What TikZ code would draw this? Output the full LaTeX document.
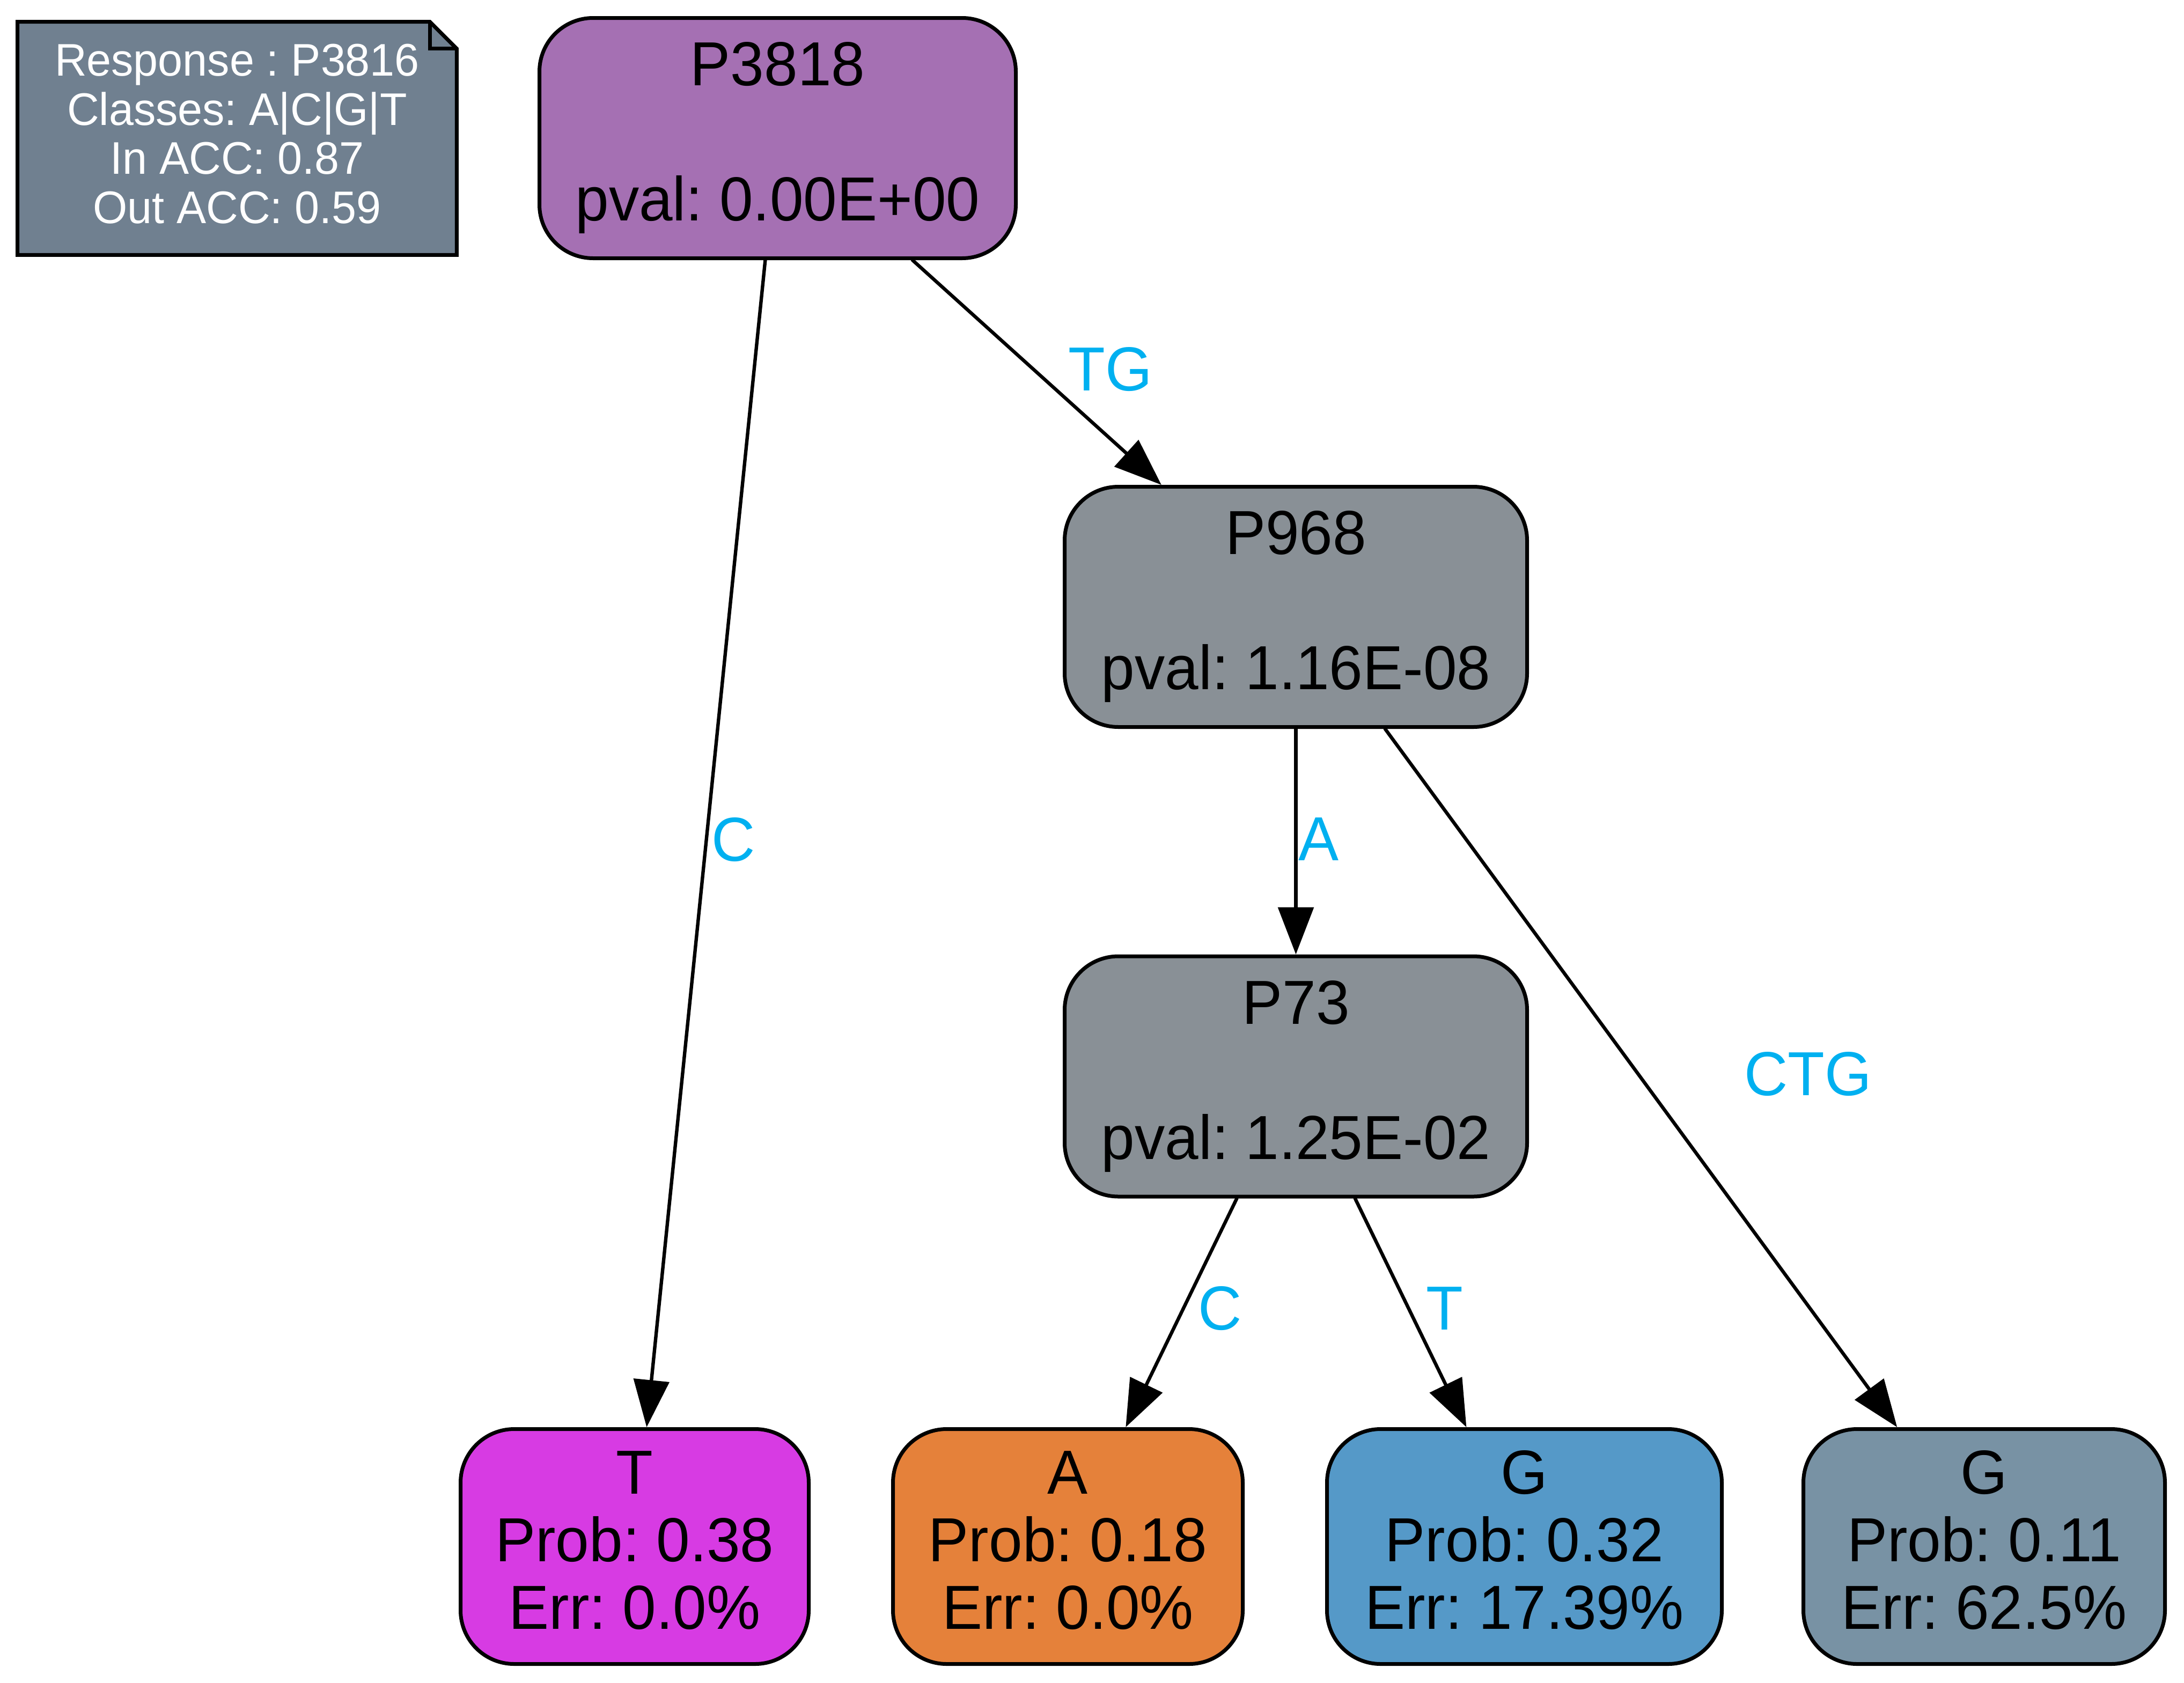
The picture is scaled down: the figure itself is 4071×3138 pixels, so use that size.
\documentclass[tikz,border=0pt]{standalone}
\usepackage{fontspec}
\setmainfont{Liberation Sans}[FakeStretch=0.97]
\usetikzlibrary{arrows.meta,backgrounds}
\definecolor{rootpurple}{HTML}{A570B3}
\definecolor{splitgray}{HTML}{899096}
\definecolor{leafmagenta}{HTML}{D73BE3}
\definecolor{leaforange}{HTML}{E5813A}
\definecolor{leafblue}{HTML}{5599C8}
\definecolor{leafslate}{HTML}{7892A4}
\definecolor{notegray}{HTML}{708090}
\definecolor{labelblue}{HTML}{00B0F0}
\newcommand{\nodefont}{\fontsize{29pt}{31.5pt}\selectfont}
\newcommand{\notefont}{\fontsize{21.3pt}{22.9pt}\selectfont}
\frenchspacing
\begin{document}
\begin{tikzpicture}[x=0.25pt,y=-0.25pt,line join=round,line cap=round,>={Triangle[length=22pt,width=16.5pt]}]
    \tikzset{tree node/.style={draw,line width=1.75pt,rounded corners=25pt,inner sep=0pt,align=center,font=\nodefont,minimum height=112pt},
        leaf/.style={tree node,minimum height=109.5pt},
        branch/.style={->,line width=1.6pt},
        edge label/.style={font=\nodefont,text=labelblue,anchor=base,inner sep=0pt},
        note line/.style={line width=1.75pt,line join=miter,line cap=butt}}
    \useasboundingbox (0,0) rectangle (4071,3138);
    % legend note
    \node[font=\notefont,text=white,align=center,minimum width=204.25pt,minimum height=108.25pt,inner sep=0pt] (legend) at (442,258)
        {Response : P3816\\Classes: A|C|G|T\\In ACC: 0.87\\Out ACC: 0.59\vphantom{p}};
    \begin{scope}[on background layer]
        \draw[note line,fill=notegray] (legend.north west) -- ([xshift=-12.5pt]legend.north east) -- ([yshift=-12.5pt]legend.north east) -- (legend.south east) -- (legend.south west) -- cycle;
        \draw[note line] ([xshift=-12.5pt]legend.north east) |- ([yshift=-12.5pt]legend.north east);
    \end{scope}
    % splits
    \node[tree node,fill=rootpurple,minimum width=222pt] (p3818) at (1449.5,257.5) {P3818\\\mbox{}\\pval: 0.00E+00};
    \node[tree node,fill=splitgray,minimum width=215.5pt] (p968) at (2415.5,1131.5) {P968\\\mbox{}\\pval: 1.16E-08};
    \node[tree node,fill=splitgray,minimum width=215.5pt] (p73) at (2415.5,2007) {P73\\\mbox{}\\pval: 1.25E-02};
    % leaves
    \foreach \nm/\x/\w/\col/\cls/\pr/\er in {leafT/1183/162.25/leafmagenta/T/0.38/0.0,leafA/1990.5/163/leaforange/A/0.18/0.0,
        leafG/2841.5/184/leafblue/G/0.32/17.39,leafGs/3698.5/168.5/leafslate/G/0.11/62.5}
    \node[leaf,fill=\col,minimum width=\w pt] (\nm) at (\x,2883.5) {\cls\\Prob: \pr\\Err: \er\%\vphantom{p}};
    \foreach \a/\b in {p3818/leafT,p3818/p968,p968/p73,p968/leafGs,p73/leafA,p73/leafG}
    \draw[branch] (\a) -- (\b);
    \foreach \nm/\x/\y/\txt in {labC/1367/1605/C,labTG/2070/728/TG,labA/2458/1604/A,labCTG/3370/2042/CTG,labCa/2274/2479/C,labT/2693/2479/T}
    \node[edge label] (\nm) at (\x,\y) {\txt};
\end{tikzpicture}
\end{document}
